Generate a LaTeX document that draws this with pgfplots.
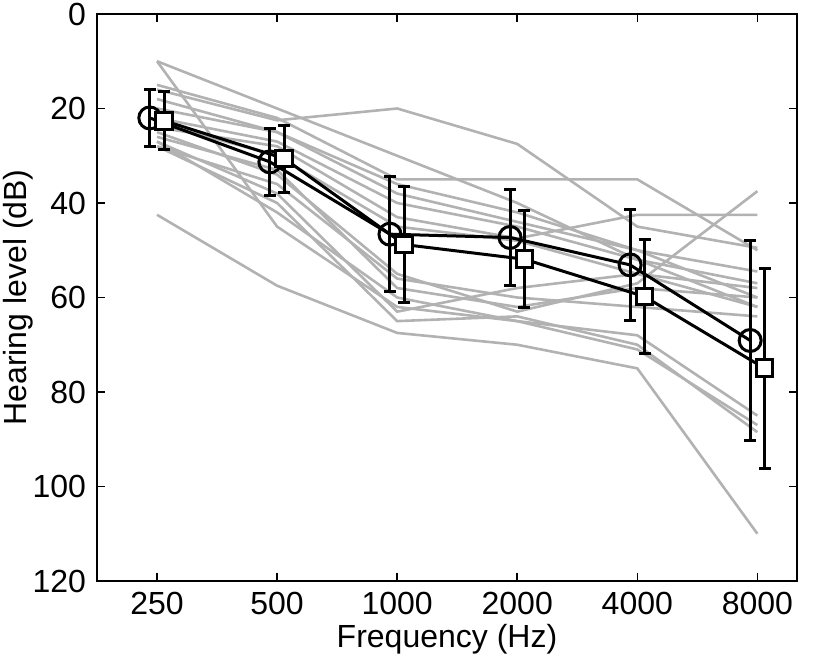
\documentclass[border=0pt]{standalone}
\usepackage{pgfplots}
\pgfplotsset{compat=1.18}
\usepackage{fontspec}
\setmainfont{Liberation Sans}

\begin{document}
\fontsize{16}{19}\selectfont
\begin{tikzpicture}
\begin{axis}[
    scale only axis,
    width=350pt, height=283.5pt,
    xmin=-0.5, xmax=5.33,
    ymin=0, ymax=120,
    y dir=reverse,
    xtick={0,1,2,3,4,5},
    xticklabels={250,500,1000,2000,4000,8000},
    ytick={0,20,40,60,80,100,120},
    tick align=inside,
    major tick length=4pt,
    axis line style={line width=0.8pt},
    every tick/.style={black, line width=0.8pt},
    xlabel={Frequency (Hz)},
    ylabel={Hearing level (dB)},
    xlabel style={yshift=6pt},
    ylabel style={yshift=-11pt},
    /pgf/number format/assume math mode=true,
    tick label style={font=\fontsize{16}{19}\selectfont},
    label style={font=\fontsize{16}{19}\selectfont},
    clip=false,
]
% individual listeners
\addplot[black!30, line width=1.3pt] coordinates {(0,10) (1,20) (2,30) (3,40) (4,52) (5,62)};
\addplot[black!30, line width=1.3pt] coordinates {(0,10) (1,45) (2,62) (3,65) (4,71) (5,87)};
\addplot[black!30, line width=1.3pt] coordinates {(0,15) (1,22) (2,35) (3,35) (4,35) (5,50)};
\addplot[black!30, line width=1.3pt] coordinates {(0,16) (1,22.5) (2,20) (3,27.5) (4,45) (5,49.5)};
\addplot[black!30, line width=1.3pt] coordinates {(0,20) (1,25) (2,36) (3,42) (4,50) (5,54.5)};
\addplot[black!30, line width=1.3pt] coordinates {(0,22) (1,27) (2,40) (3,45) (4,52) (5,57)};
\addplot[black!30, line width=1.3pt] coordinates {(0,23) (1,30) (2,45) (3,48) (4,55) (5,58)};
\addplot[black!30, line width=1.3pt] coordinates {(0,24) (1,28) (2,43) (3,47.5) (4,42.5) (5,42.5)};
\addplot[black!30, line width=1.3pt] coordinates {(0,25) (1,34) (2,55) (3,63) (4,57) (5,37.5)};
\addplot[black!30, line width=1.3pt] coordinates {(0,26) (1,33) (2,58) (3,62) (4,58) (5,60)};
\addplot[black!30, line width=1.3pt] coordinates {(0,27) (1,38) (2,63) (3,58) (4,55) (5,62)};
\addplot[black!30, line width=1.3pt] coordinates {(0,27) (1,42) (2,60) (3,65) (4,68) (5,85)};
\addplot[black!30, line width=1.3pt] coordinates {(0,28) (1,40) (2,65) (3,64) (4,70) (5,88.5)};
\addplot[black!30, line width=1.3pt] coordinates {(0,28) (1,36) (2,56) (3,60) (4,62) (5,64)};
\addplot[black!30, line width=1.3pt] coordinates {(0,18) (1,25) (2,38) (3,44) (4,50) (5,60)};
\addplot[black!30, line width=1.3pt] coordinates {(0,42.5) (1,57.5) (2,67.5) (3,70) (4,75) (5,110)};
% group means
\addplot[black, line width=1.5pt, mark=o, mark size=5.5pt,
    mark options={fill=white, line width=1.5pt},
    error bars/.cd, y dir=both, y explicit,
    error bar style={line width=1.5pt},
    error mark options={rotate=90, line width=1.5pt, mark size=3pt}]
coordinates {
    (-0.06,22.0) +- (0,6.1)
    (0.94,31.3) +- (0,7.1)
    (1.94,46.6) +- (0,12.2)
    (2.94,47.3) +- (0,10.1)
    (3.94,53.1) +- (0,11.8)
    (4.94,69.1) +- (0,21.2)
};
\addplot[black, line width=1.5pt, mark=square*, mark size=4.2pt,
    mark options={fill=white, line width=1.5pt},
    error bars/.cd, y dir=both, y explicit,
    error bar style={line width=1.5pt},
    error mark options={rotate=90, line width=1.5pt, mark size=3pt}]
coordinates {
    (0.06,22.6) +- (0,6.1)
    (1.06,30.6) +- (0,7.1)
    (2.06,48.8) +- (0,12.2)
    (3.06,51.9) +- (0,10.3)
    (4.06,59.8) +- (0,12.0)
    (5.06,75.0) +- (0,21.2)
};
\end{axis}
\pgfresetboundingbox
\path[use as bounding box] (-48.5pt,-37.5pt) rectangle (361.5pt,290.5pt);
\end{tikzpicture}
\end{document}
